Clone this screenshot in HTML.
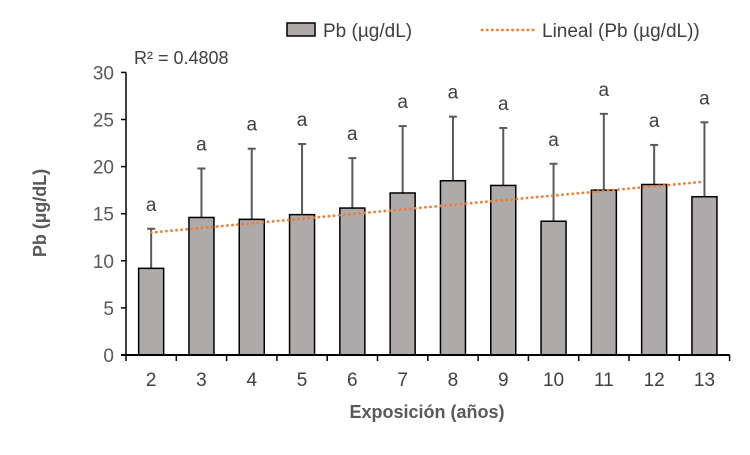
<!DOCTYPE html>
<html><head><meta charset="utf-8"><style>
body{margin:0;background:#fff}
text{font-family:"Liberation Sans",Arial,sans-serif}
</style></head><body>
<svg id="chart" width="750" height="450" xmlns="http://www.w3.org/2000/svg"></svg>
<script>
const categories=["2","3","4","5","6","7","8","9","10","11","12","13"];
const values=[9.2,14.6,14.4,14.9,15.6,17.2,18.5,18.0,14.2,17.5,18.1,16.8];
const errTops=[13.4,19.8,21.9,22.4,20.9,24.3,25.3,24.1,20.3,25.6,22.3,24.7];
const letters=["a","a","a","a","a","a","a","a","a","a","a","a"];
const yTicks=[0,5,10,15,20,25,30];
const trend=[13.0,18.4];
const NS="http://www.w3.org/2000/svg";
const svg=document.getElementById('chart');
const x0=126,step=50.3,y0=355,ppu=9.42;
const xs=i=>x0+step*(i+0.5);
const ys=v=>y0-v*ppu;
function el(t,a,txt){const e=document.createElementNS(NS,t);for(const k in a)e.setAttribute(k,a[k]);if(txt!==undefined)e.textContent=txt;svg.appendChild(e);return e;}
yTicks.forEach(v=>{
 const t=el('line',{x1:x0-5,x2:x0,y1:ys(v),y2:ys(v),stroke:'#000','stroke-width':1.5});
 
 
 const l=el('text',{x:x0-12,y:ys(v)+7,'text-anchor':'end','font-size':19,fill:'#595959'},v);
 
 
});
categories.forEach((c,i)=>{
 const cx=xs(i);
 const e=el('line',{x1:cx,x2:cx,y1:ys(values[i]),y2:ys(errTops[i]),stroke:'#595959','stroke-width':2});
 
 
 const cap=el('line',{x1:cx-4,x2:cx+4,y1:ys(errTops[i]),y2:ys(errTops[i]),stroke:'#595959','stroke-width':2});
 
 
 const b=el('rect',{x:cx-12.5,y:ys(values[i]),width:25,height:values[i]*ppu,fill:'#aeaaaa',stroke:'#000','stroke-width':1.5});
 
 
 const a=el('text',{x:cx,y:ys(errTops[i])-18,'text-anchor':'middle','font-size':19,fill:'#404040'},letters[i]);
 
 
 const xl=el('text',{x:cx,y:y0+31,'text-anchor':'middle','font-size':19,fill:'#404040'},c);
 
 
});
for(let i=0;i<=categories.length;i++){
 const t=el('line',{x1:x0+step*i,x2:x0+step*i,y1:y0,y2:y0+6,stroke:'#000','stroke-width':1.5});
 
 
}
const tl=el('line',{x1:xs(0),x2:xs(categories.length-1),y1:ys(trend[0]),y2:ys(trend[1]),stroke:'#ed7d31','stroke-width':2.8,'stroke-dasharray':'0.1 5','stroke-linecap':'round'});


const ya=el('line',{x1:x0,x2:x0,y1:ys(30),y2:y0,stroke:'#000','stroke-width':1.5});


const xa=el('line',{x1:x0-5,x2:x0+step*categories.length,y1:y0,y2:y0,stroke:'#000','stroke-width':2});


</script>
<svg style="position:absolute;left:0;top:0" width="750" height="450" xmlns="http://www.w3.org/2000/svg">
<text x="134" y="64" font-size="18" fill="#404040">R² = 0.4808</text>
<text x="427" y="418" text-anchor="middle" font-size="18" font-weight="bold" fill="#595959">Exposición  (años)</text>
<text transform="translate(46,213) rotate(-90)" text-anchor="middle" font-size="18" font-weight="bold" fill="#595959">Pb (µg/dL)</text>
<g>
<rect x="287" y="23" width="28" height="13" fill="#aeaaaa" stroke="#000" stroke-width="1.5"/>
<text x="323" y="37" font-size="19" fill="#404040">Pb (µg/dL)</text>
<line x1="482" y1="30" x2="536" y2="30" stroke="#ed7d31" stroke-width="2.8" stroke-dasharray="0.1 5" stroke-linecap="round"/>
<text x="542" y="37" font-size="19" fill="#404040">Lineal (Pb (µg/dL))</text>
</g>
</svg>
</body></html>
